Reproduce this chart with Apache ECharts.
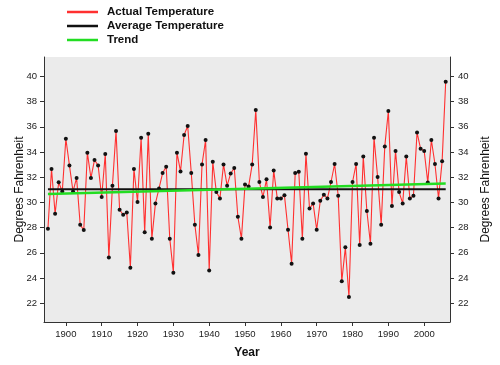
<!DOCTYPE html>
<html>
<head>
<meta charset="utf-8">
<script src="https://cdn.jsdelivr.net/npm/echarts@6/dist/echarts.min.js"></script>
<style>
html,body{margin:0;padding:0;background:#fff;}
#chart{width:500px;height:365px;}
</style>
</head>
<body>
<div id="chart"></div>
<script>
var years = [1895,1896,1897,1898,1899,1900,1901,1902,1903,1904,1905,1906,1907,1908,1909,
1910,1911,1912,1913,1914,1915,1916,1917,1918,1919,1920,1921,1922,1923,1924,1925,1926,1927,1928,1929,
1930,1931,1932,1933,1934,1935,1936,1937,1938,1939,1940,1941,1942,1943,1944,1945,1946,1947,1948,1949,
1950,1951,1952,1953,1954,1955,1956,1957,1958,1959,1960,1961,1962,1963,1964,1965,1966,1967,1968,1969,
1970,1971,1972,1973,1974,1975,1976,1977,1978,1979,1980,1981,1982,1983,1984,1985,1986,1987,1988,1989,
1990,1991,1992,1993,1994,1995,1996,1997,1998,1999,2000,2001,2002,2003,2004,2005,2006];
var actualTemp = [27.9,32.65,29.1,31.6,30.87,35.06,32.94,30.87,31.94,28.23,27.8,33.95,31.94,33.37,32.94,
30.43,33.84,25.63,31.33,35.67,29.42,29.02,29.2,24.81,32.65,30.03,35.14,27.62,35.46,27.12,29.92,31.11,32.33,32.84,27.12,
24.42,33.95,32.46,35.35,36.07,32.33,28.23,25.82,33.02,34.96,24.6,33.23,30.82,30.32,33.02,31.33,32.3,32.73,28.86,27.12,
31.43,31.27,33.02,37.34,31.62,30.43,31.83,28.01,32.54,30.32,30.32,30.56,27.83,25.13,32.33,32.44,27.12,33.87,29.52,29.92,
27.83,30.13,30.61,30.32,31.62,33.05,30.53,23.73,26.43,22.49,31.62,33.05,26.61,33.65,29.32,26.72,35.14,32.02,28.23,34.45,
37.26,29.71,34.08,30.82,29.92,33.65,30.32,30.53,35.56,34.26,34.08,31.59,34.96,33.05,30.32,33.26,39.59];
var averageLine = [[1895,31.05],[2006,31.05]];
var trendLine = [[1895,30.67],[2006,31.51]];
var xTicks = [1900,1910,1920,1930,1940,1950,1960,1970,1980,1990,2000];
var yTicks = [22,24,26,28,30,32,34,36,38,40];

var actualData = years.map(function(y,i){return [y, actualTemp[i]];});
var chart = echarts.init(document.getElementById('chart'), null, {renderer:'canvas'});
function yAxisDef(pos, gap, margin, moveOverlap){
  return {
    type:'value', position:pos, min:20.5, max:41.55,
    name:'Degrees Fahrenheit', nameLocation:'middle', nameRotate:90, nameGap:gap,
    nameMoveOverlap:moveOverlap,
    nameTextStyle:{fontFamily:'Liberation Sans', fontSize:12, color:'#111'},
    axisLine:{show:true,lineStyle:{color:'#333',width:1}},
    splitLine:{show:false},
    axisTick:{show:true, length:4, lineStyle:{color:'#333'}, customValues:yTicks},
    axisLabel:{fontFamily:'Liberation Sans', fontSize:9.5, color:'#222', margin:margin, customValues:yTicks,
      formatter:function(v){return String(v);}}
  };
}
chart.setOption({
  animation:false,
  backgroundColor:'#fff',
  grid:{left:44,right:47,top:57,bottom:43,show:true,backgroundColor:'#ebebeb',borderWidth:0},
  legend:{
    orient:'vertical', left:67, top:5, padding:0, itemGap:0,
    itemWidth:31, itemHeight:2.5,
    textStyle:{fontFamily:'Liberation Sans', fontSize:11.5, fontWeight:'bold', color:'#111', lineHeight:14, padding:[0,0,0,4]},
    data:[
      {name:'Actual Temperature', icon:'rect', itemStyle:{color:'#ff3030'}},
      {name:'Average Temperature', icon:'rect', itemStyle:{color:'#111'}},
      {name:'Trend', icon:'rect', itemStyle:{color:'#22dd22'}}
    ]
  },
  xAxis:{
    type:'value', min:1893.9, max:2007.2,
    name:'Year', nameLocation:'middle', nameGap:25,
    nameTextStyle:{fontFamily:'Liberation Sans', fontSize:12, fontWeight:'bold', color:'#111'},
    axisLine:{show:true,lineStyle:{color:'#333',width:1}},
    splitLine:{show:false},
    axisTick:{show:true, length:4, lineStyle:{color:'#333'}, customValues:xTicks},
    axisLabel:{fontFamily:'Liberation Sans', fontSize:9.5, color:'#222', margin:7, customValues:xTicks,
      formatter:function(v){return String(v);}}
  },
  yAxis:[yAxisDef('left',18,7,false), yAxisDef('right',30,8,true)],
  series:[
    {name:'Actual Temperature', type:'line', data:actualData, yAxisIndex:0,
      lineStyle:{color:'#ff3030', width:1.1}, itemStyle:{color:'#111'},
      symbol:'circle', symbolSize:4, showSymbol:true, z:2},
    {name:'Average Temperature', type:'line', data:averageLine, yAxisIndex:0,
      lineStyle:{color:'#111', width:2}, itemStyle:{color:'#111'}, symbol:'none', z:3},
    {name:'Trend', type:'line', data:trendLine, yAxisIndex:0,
      lineStyle:{color:'#22dd22', width:2.5}, itemStyle:{color:'#22dd22'}, symbol:'none', z:4}
  ]
});
</script>
</body>
</html>
